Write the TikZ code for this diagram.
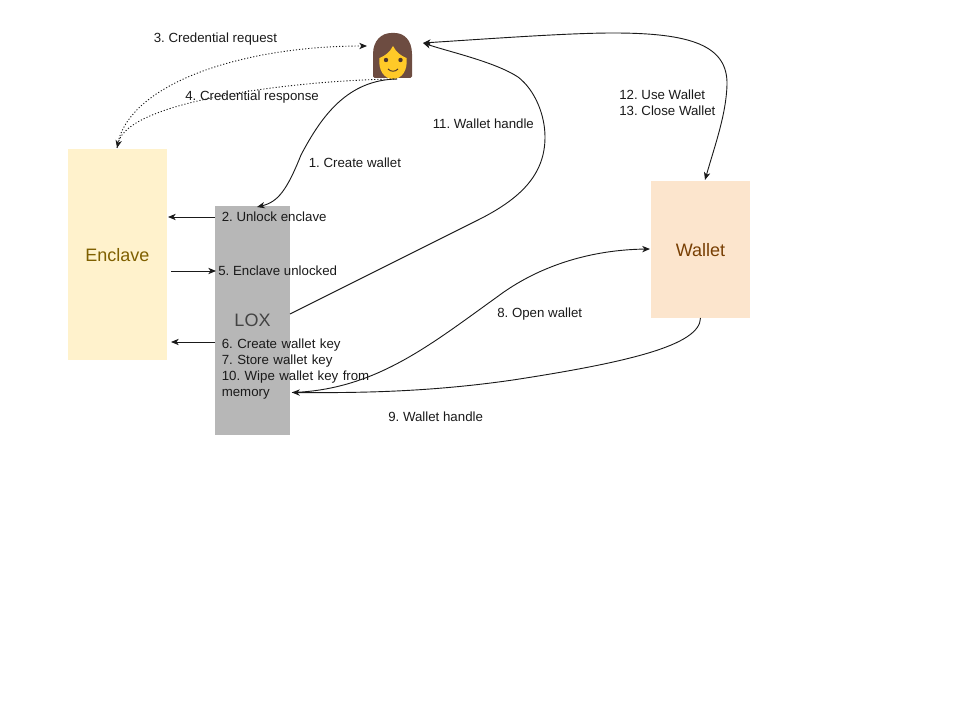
\documentclass[tikz,border=0pt]{standalone}
\usepackage{fontspec}
\setmainfont{Liberation Sans}
\usepackage{xcolor}
\usetikzlibrary{positioning,calc,arrows.meta,fit}
\definecolor{enclavec}{HTML}{FFF2CC}
\definecolor{enclavet}{HTML}{7F6000}
\definecolor{loxc}{HTML}{B7B7B7}
\definecolor{loxt}{HTML}{434343}
\definecolor{walletc}{HTML}{FCE5CD}
\definecolor{wallett}{HTML}{783F04}
\definecolor{hairc}{HTML}{6D4C41}
\definecolor{facec}{HTML}{FFCA28}
\definecolor{inkc}{HTML}{1A1A1A}
\frenchspacing

\begin{document}
\begin{tikzpicture}[x=0.025cm,y=-0.025cm,
                    box/.style={minimum width=0pt, minimum height=0pt, inner sep=0pt, font=\fontsize{12.8}{15}\selectfont},
                    lbl/.style={anchor=west, inner sep=0pt, text=inkc, align=left, font=\fontsize{9.44}{11.33}\selectfont},
                    link/.style={draw=inkc, line width=0.65pt, -{Stealth[length=5.5pt,width=4.5pt,inset=1.6pt]}},
                    both/.style={link, {Stealth[length=5.5pt,width=4.5pt,inset=1.6pt]}-{Stealth[length=5.5pt,width=4.5pt,inset=1.6pt]}},
                    dots/.style={link, dash pattern=on 0.8pt off 1.4pt}]
  \useasboundingbox (0,0) rectangle (960,720);
  % boxes
  \node[box, fill=enclavec, minimum width=99*0.025cm, minimum height=211*0.025cm] (enclave) at (117.5,254.5){};
  \node[box, text=enclavet] (enclavename) at (117.5,255.5){Enclave};
  \node[box, fill=loxc, minimum width=75*0.025cm, minimum height=229*0.025cm] (lox) at (252.5,320.5){};
  \node[box, text=loxt] (loxname) at (252.5,320.5){LOX};
  \node[box, fill=walletc, minimum width=99*0.025cm, minimum height=137*0.025cm] (wallet) at (700.5,249.5){};
  \node[box, text=wallett] (walletname) at (700.5,250.5){Wallet};
  % user: hair, face, eyes, mouth
  \fill[hairc, rounded corners=1.2] (373,78) -- (373,56) .. controls (373,40) and (382,33) .. (393,33)
       .. controls (404,33) and (412,40) .. (412,56) -- (412,78) -- cycle;
  \fill[facec] (379.5,58) .. controls (385,56) and (390,52) .. (393,46)
       .. controls (396,52) and (401,56) .. (406.5,58)
       .. controls (408,70) and (402,79) .. (393,79)
       .. controls (384,79) and (378,70) .. (379.5,58) -- cycle;
  \fill[hairc!70!black] (386,60) circle (2.2) (400.5,60) circle (2.2);
  \draw[hairc!70!black, line width=0.7pt] (388,69) .. controls (391,72) and (395,72) .. (398,69);
  \node[fit={(373,33)(412,78)}, inner sep=0pt] (user) {};
  % connector ends
  \coordinate (userin) at (367,46);
  \coordinate (userout) at (397,79);
  \coordinate (userr) at (423,43);
  \coordinate (enclavetop) at (117,148);
  \coordinate (loxtop) at (257,207);
  \coordinate (enclaveup) at (168,217);
  \coordinate (enclavemid) at (171,271);
  \coordinate (enclavelow) at (171,342);
  \coordinate (loxl) at (215,217);
  \coordinate (loxm) at (216,271);
  \coordinate (loxn) at (215,342);
  \coordinate (loxr) at (290,314);
  \coordinate (loxs) at (292,392.5);
  \coordinate (wallettop) at (705,180);
  \coordinate (walletl) at (650,249);
  \coordinate (walletb) at (700.5,318);
  % arrows
  \draw[link] (userout) .. controls (348,80) and (322,115) .. (301,155) .. controls (287,190) and (278,202) .. (loxtop);
  \draw[link] (loxl) -- (enclaveup);
  \draw[link] (enclavemid) -- (loxm);
  \draw[link] (loxn) -- (enclavelow);
  \draw[dots] (enclavetop) .. controls (125,85) and (240,46) .. (userin);
  \draw[dots] (userout) .. controls (300,80) and (128,100) .. (enclavetop);
  \draw[link] (loxr) -- (478,220) .. controls (520,199) and (545,175) .. (545,137)
       .. controls (545,115) and (535,90) .. (518,77) .. controls (495,62) and (450,52) .. (userr);
  \draw[both] (userr) .. controls (500,38) and (570,33) .. (613,33)
       .. controls (690,33) and (728,45) .. (727,85) .. controls (726,115) and (715,145) .. (wallettop);
  \draw[link] (loxs) .. controls (375,390) and (430,345) .. (497,297)
       .. controls (530,272) and (580,250) .. (walletl);
  \draw[link] (walletb) .. controls (700,345) and (630,362) .. (513,380) .. controls (430,392) and (360,393) .. (loxs);
  % labels
  \node[lbl] (l3) at (153.5,39.5){3. Credential request};
  \node[lbl] (l4) at (185,97.5){4. Credential response};
  \node[lbl] (l1) at (308.5,163){1. Create wallet};
  \node[lbl] (l2) at (221.5,217){2. Unlock enclave};
  \node[lbl] (l5) at (218,271){5. Enclave unlocked};
  \node[lbl, text width=150*0.025cm] (l6) at (221.5,369){6. Create wallet key\\7. Store wallet key\\10. Wipe wallet key from\\memory};
  \node[lbl] (l11) at (432.5,124){11. Wallet handle};
  \node[lbl] (l12) at (619,103){12. Use Wallet\\13. Close Wallet};
  \node[lbl] (l8) at (497,314){8. Open wallet};
  \node[lbl] (l9) at (388,417){9. Wallet handle};
\end{tikzpicture}
\end{document}
